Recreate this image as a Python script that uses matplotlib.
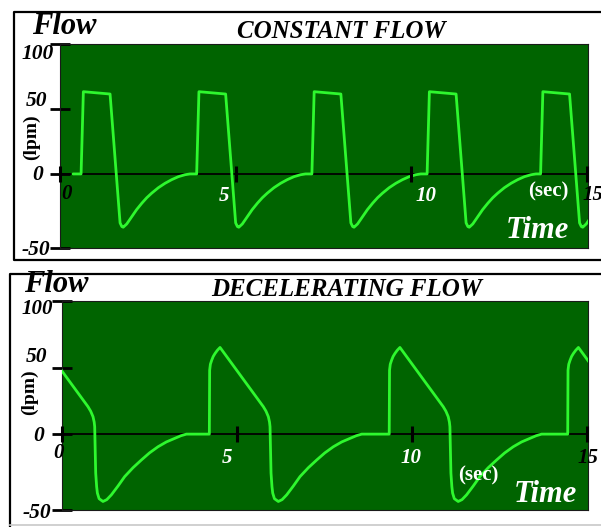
import numpy as np
import matplotlib
matplotlib.use('Agg')
import matplotlib.pyplot as plt

# 글씨체
SERIF = 'Liberation Serif'

# constant flow: one breath, time from start of inspiration (s) and flow (lpm)
const_t = [0.0, 0.065, 0.825, 1.11, 1.16, 1.20, 1.30, 1.44, 1.58, 1.73, 1.87,
           2.01, 2.20, 2.39, 2.58, 2.77, 2.96, 3.10]
const_flow = [0, 63.3, 61.5, -37.7, -40.5, -41.0, -38.5, -33.0, -27.5, -22.5, -18.3,
              -14.8, -10.6, -7.2, -4.4, -2.1, -0.6, 0]
const_starts = [0.60, 3.89, 7.17, 10.45, 13.68]
const_trace_start = 0.37

# decelerating flow: one breath
decel_t = [0.0, 0.009, 0.03, 0.069, 0.11, 0.163, 0.23, 0.306, 1.543, 1.62, 1.686,
           1.72, 1.734, 1.763, 1.79, 1.811, 1.86, 1.971, 2.08, 2.211, 2.40, 2.591,
           2.83, 3.069, 3.30, 3.543, 3.78, 4.02, 4.20, 4.354]
decel_flow = [0, 48, 52.5, 55.6, 58.3, 60.6, 63.0, 65.1, 20.6, 17.2, 13.1,
              9.0, 5.6, -29.3, -39.5, -44.3, -48.5, -50.6, -49.2, -45.6, -39.0, -31.9,
              -25.2, -19.4, -14.1, -9.5, -5.9, -3.2, -1.2, 0]
decel_starts = [-0.80, 4.21, 9.35, 14.45]

x_ticks = [0, 5, 10, 15]
y_low = -57  # bottom of the drawn scale, labelled -50

GREEN_BG = '#006400'
TRACE = '#2ef82e'


def build_trace(rel_t, rel_f, starts, first=None):
    ts, fs = [], []
    if first is not None:
        ts.append(first)
        fs.append(0)
    for s in starts:
        ts.extend([s + t for t in rel_t])
        fs.extend(rel_f)
    return np.array(ts), np.array(fs)


fig = plt.figure(figsize=(6.01, 5.27), dpi=100)
W, H = 601, 527


def add_panel(left, top, right, bottom, t, f):
    ax = fig.add_axes([left / W, 1 - bottom / H, (right - left) / W, (bottom - top) / H])
    ax.set_facecolor(GREEN_BG)
    ax.plot(t, f, color=TRACE, lw=2.0, solid_joinstyle='round', solid_capstyle='round', zorder=3)
    ax.set_xlim(0, 15.03)
    ax.set_ylim(y_low, 100)
    ax.axhline(0, color='black', lw=1.3, zorder=2)
    ax.vlines(x_ticks, -6, 6, color='black', lw=2.2, zorder=4, clip_on=False)
    ax.set_xticks([])
    ax.set_yticks([y_low, 0, 50, 100])
    ax.set_yticklabels([])
    ax.tick_params(axis='y', direction='inout', length=15, width=2.0, color='black')
    for s in ax.spines.values():
        s.set_color('#1a1a1a')
        s.set_linewidth(0.8)
    return ax


t1, f1 = build_trace(const_t, const_flow, const_starts, const_trace_start)
t2, f2 = build_trace(decel_t, decel_flow, decel_starts)
ax1 = add_panel(60, 44, 588, 248, t1, f1)
ax2 = add_panel(62, 301, 588, 510, t2, f2)

# 테두리와 글자 (픽셀 좌표)
bg = fig.add_axes([0, 0, 1, 1], zorder=10)
bg.set_xlim(0, W)
bg.set_ylim(H, 0)
bg.axis('off')
bg.patch.set_alpha(0)

bg.plot([601, 14, 14, 601], [12, 12, 260, 260], color='black', lw=1.6)
bg.plot([601, 10, 10], [274, 274, 527], color='black', lw=1.6)
bg.plot([10, 601], [525, 525], color='#c8c8c8', lw=1.2)


def txt(x, y, s, size, color='black', italic=True, **kw):
    bg.text(x, y, s, fontsize=size, color=color, family=SERIF, fontweight='bold',
            fontstyle='italic' if italic else 'normal', va='center',
            ha=kw.pop('ha', 'center'), **kw)


# top panel
txt(64, 27, 'Flow', 22)
txt(341, 31, 'CONSTANT FLOW', 18)
txt(38, 54, '100', 15.5)
txt(37, 101, '50', 15.5)
txt(38, 175, '0', 15.5)
txt(36, 250, '-50', 15.5)
txt(31, 137, '(lpm)', 14, italic=False, rotation=90)
txt(67, 194, '0', 15)
txt(224, 196, '5', 15, color='white')
txt(426, 196, '10', 15, color='white')
txt(583, 195, '15', 15, ha='left')
txt(548, 191, '(sec)', 15, color='white', italic=False)
txt(537, 230, 'Time', 22, color='white')

# bottom panel
txt(56, 284, 'Flow', 22)
txt(347, 289, 'DECELERATING FLOW', 18)
txt(37, 309, '100', 15)
txt(36, 357, '50', 15.5)
txt(39, 436, '0', 15.5)
txt(37, 513, '-50', 15.5)
txt(29, 392, '(lpm)', 14, italic=False, rotation=90)
txt(59, 453, '0', 15)
txt(227, 458, '5', 15, color='white')
txt(411, 458, '10', 15, color='white')
txt(578, 458, '15', 15, ha='left')
txt(478, 475, '(sec)', 15, color='white', italic=False)
txt(545, 495, 'Time', 22, color='white')

fig.savefig('out.png', dpi=100, facecolor='white')
